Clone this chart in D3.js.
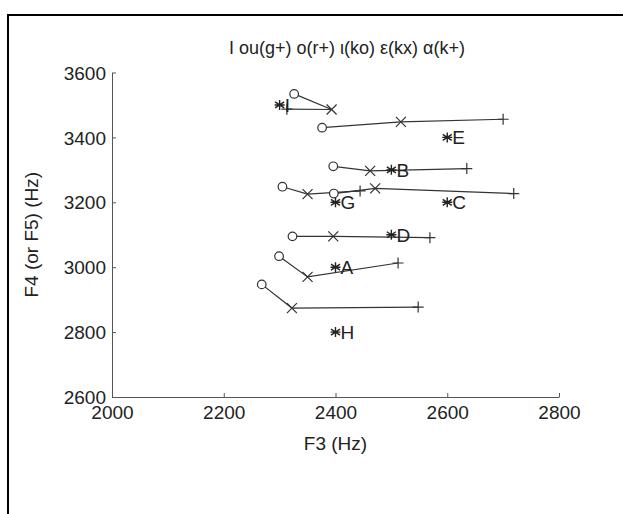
<!DOCTYPE html>
<html lang='en'>

<head>
    <meta charset='UTF-8'>
    <title>F3 vs F4</title>
    <script src='https://d3js.org/d3.v7.min.js' charset='utf-8'></script>
    <style>
        body {
            margin: 0px;
            background: white;
            font-family: 'Liberation Sans', Arial, sans-serif;
        }

        .tick text {
            font-size: 19px;
            font-family: 'Liberation Sans', Arial, sans-serif;
            fill: #222;
        }
    </style>
</head>

<body>
    <div id='chart'></div>
    <script>
        'use strict';

        // each track: [start (circle), middle (x), end (+)]
        const trackF3 = [
            [2326, 2393, 2313],
            [2376, 2517, 2700],
            [2396, 2462, 2635],
            [2305, 2350, 2444],
            [2397, 2471, 2719],
            [2323, 2396, 2569],
            [2299, 2350, 2512],
            [2268, 2322, 2548],
        ];
        const trackF4 = [
            [3534, 3486, 3487],
            [3430, 3448, 3456],
            [3311, 3297, 3304],
            [3248, 3225, 3235],
            [3227, 3243, 3227],
            [3095, 3095, 3091],
            [3034, 2970, 3013],
            [2947, 2874, 2877],
        ];

        const starLabels = ['I', 'E', 'B', 'G', 'C', 'D', 'A', 'H'];
        const starF3 = [2300, 2600, 2500, 2400, 2600, 2500, 2400, 2400];
        const starF4 = [3500, 3400, 3300, 3200, 3200, 3100, 3000, 2800];

        const xTicks = [2000, 2200, 2400, 2600, 2800];
        const yTicks = [2600, 2800, 3000, 3200, 3400, 3600];

        const titleText = 'I ou(g+) o(r+) ι(ko) ε(kx) α(k+)';

        const width = 623, height = 514;
        const margin = { top: 72.5, right: 64, bottom: 117, left: 112 };

        const svg = d3.select('#chart')
            .append('svg')
            .attr('width', width)
            .attr('height', height);

        // figure frame
        svg.append('rect')
            .attr('x', 8)
            .attr('y', 15)
            .attr('width', width)
            .attr('height', height)
            .attr('fill', 'none')
            .attr('stroke', 'black')
            .attr('stroke-width', 2);

        const x = d3.scaleLinear()
            .domain([2000, 2800])
            .range([margin.left, width - margin.right]);

        const y = d3.scaleLinear()
            .domain([2600, 3600])
            .range([height - margin.bottom, margin.top]);

        const xAxis = svg.append('g')
            .attr('transform', `translate(0, ${y(2600)})`)
            .call(d3.axisBottom(x).tickValues(xTicks).tickFormat(d3.format('d')).tickSizeInner(-4).tickSizeOuter(0).tickPadding(9));

        const yAxis = svg.append('g')
            .attr('transform', `translate(${x(2000)}, 0)`)
            .call(d3.axisLeft(y).tickValues(yTicks).tickFormat(d3.format('d')).tickSizeInner(-4).tickSizeOuter(0).tickPadding(6));

        [xAxis, yAxis].forEach(a => {
            a.select('.domain').attr('stroke', '#555');
            a.selectAll('.tick line').attr('stroke', '#555');
        });
        xAxis.selectAll('.tick text').attr('dy', '0.7em');
        yAxis.selectAll('.tick text').attr('dy', '0.35em');

        svg.append('text')
            .attr('x', 347)
            .attr('y', 54)
            .attr('text-anchor', 'middle')
            .style('font-size', '18px')
            .style('fill', '#222')
            .text(titleText);

        svg.append('text')
            .attr('x', x(2400))
            .attr('y', 450)
            .attr('text-anchor', 'middle')
            .style('font-size', '19px')
            .style('fill', '#222')
            .text('F3 (Hz)');

        svg.append('text')
            .attr('transform', `translate(38, ${y(3100)}) rotate(-90)`)
            .attr('text-anchor', 'middle')
            .style('font-size', '19px')
            .style('fill', '#222')
            .text('F4 (or F5) (Hz)');

        const tracks = trackF3.map((row, i) => row.map((f3, j) => ({ f3: f3, f4: trackF4[i][j], k: j })));

        const line = d3.line()
            .x(d => x(d.f3))
            .y(d => y(d.f4));

        svg.append('g')
            .selectAll('path')
            .data(tracks)
            .enter()
            .append('path')
            .attr('d', line)
            .attr('fill', 'none')
            .attr('stroke', '#333')
            .attr('stroke-width', 1.2);

        const markerPaths = [
            d3.arc()({ innerRadius: 0, outerRadius: 4.3, startAngle: 0, endAngle: 2 * Math.PI }),
            'M-5,-5L5,5M-5,5L5,-5',
            'M-5.5,0L5.5,0M0,-5.5L0,5.5',
        ];

        svg.append('g')
            .selectAll('path')
            .data(tracks.flat())
            .enter()
            .append('path')
            .attr('transform', d => `translate(${x(d.f3)}, ${y(d.f4)})`)
            .attr('d', d => markerPaths[d.k])
            .attr('fill', d => d.k === 0 ? 'white' : 'none')
            .attr('stroke', '#333')
            .attr('stroke-width', 1.2);

        const stars = starLabels.map((s, i) => ({ label: s, f3: starF3[i], f4: starF4[i] }));

        const starG = svg.append('g')
            .selectAll('g')
            .data(stars)
            .enter()
            .append('g')
            .attr('transform', d => `translate(${x(d.f3)}, ${y(d.f4)})`);

        starG.append('path')
            .attr('d', 'M0,-5L0,5M-4.5,-3L4.5,3M-4.5,3L4.5,-3M-5,0L5,0')
            .attr('stroke', '#222')
            .attr('stroke-width', 1.4);

        starG.append('text')
            .attr('x', 5)
            .attr('y', 7)
            .style('font-size', '19px')
            .style('fill', '#222')
            .text(d => d.label);
    </script>
</body>

</html>
